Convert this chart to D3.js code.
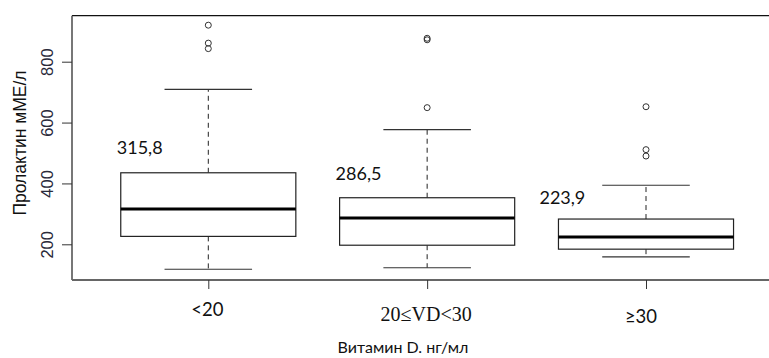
<!DOCTYPE html>
<html><head><meta charset="utf-8">
<script src="https://cdn.jsdelivr.net/npm/d3@7"></script>
<style>body{margin:0;background:#fff}svg{display:block}</style>
</head><body><svg id="c" width="769" height="358"></svg>
<script>
const categories = ["<20", "20\u2264VD<30", "\u226530"];
const q1 = [226, 197, 184];
const medians = [315.8, 286.5, 223.9];
const q3 = [435, 353, 283];
const whiskerLow = [118, 123, 159];
const whiskerHigh = [709, 577, 394];
const outliers = [[920, 861, 843], [877, 872, 649], [652, 511, 490]];
const medianLabels = ["315,8", "286,5", "223,9"];
const yTicks = [200, 400, 600, 800];

// layout-only offsets for the annotation texts (pixels)
const annotOffset = [{dx: -4, dy: -19}, {dx: -4, dy: -18}, {dx: -19, dy: -15}];

const svg = d3.select("#c");
const x = d3.scaleLinear().domain([1, 3]).range([208.3, 646]);
const y = d3.scaleLinear().domain([200, 800]).range([244.3, 61.7]);
const unit = x(2) - x(1);
const boxW = 0.8 * unit, capW = 0.4 * unit;
const plotTop = 15.7, plotBottom = 280, plotLeft = 72;

// frame
svg.append("line").attr("x1", plotLeft).attr("x2", 800).attr("y1", plotTop).attr("y2", plotTop).attr("stroke", "#111").attr("stroke-width", 1.2);
svg.append("line").attr("x1", plotLeft).attr("x2", plotLeft).attr("y1", plotTop).attr("y2", plotBottom).attr("stroke", "#555").attr("stroke-width", 1.6);
svg.append("line").attr("x1", plotLeft).attr("x2", 800).attr("y1", plotBottom).attr("y2", plotBottom).attr("stroke", "#666").attr("stroke-width", 1.8);

// y axis
const yAxis = d3.axisLeft(y).tickValues(yTicks).tickSize(10).tickSizeOuter(0).tickFormat(d3.format("d"));
const ya = svg.append("g").attr("transform", `translate(${plotLeft},0)`).call(yAxis);
ya.select(".domain").remove();
ya.selectAll(".tick line").attr("stroke", "#333");
ya.selectAll(".tick text").attr("fill", "#2a2a3a").attr("font-family", "Liberation Sans, Arial, sans-serif")
  .attr("font-size", 16.5).attr("text-anchor", "middle").attr("dy", null).attr("x", null)
  .attr("transform", `translate(-25,0) rotate(-90)`).attr("dominant-baseline", "central");

svg.append("text").attr("transform", "translate(20,143) rotate(-90)").attr("text-anchor", "middle")
  .attr("dominant-baseline", "central").attr("font-family", "Liberation Sans, Arial, sans-serif")
  .attr("font-size", 17.5).attr("fill", "#111").text("Пролактин мМЕ/л");

// x ticks
const xAxis = d3.axisBottom(x).tickValues([1, 2, 3]).tickSize(9).tickSizeOuter(0).tickFormat("");
const xa = svg.append("g").attr("transform", `translate(0,${plotBottom})`).call(xAxis);
xa.select(".domain").remove();
xa.selectAll(".tick line").attr("stroke", "#333");

// x labels
const labelStyle = [
  {font: "Lato, 'Open Sans', sans-serif", size: 18.5, dy: 316, dx: -1},
  {font: "Liberation Serif, 'Times New Roman', serif", size: 20, dy: 321, dx: -1},
  {font: "Lato, 'Open Sans', sans-serif", size: 18.5, dy: 323, dx: -5}
];
categories.forEach((c, i) => {
  svg.append("text").attr("x", x(i + 1) + labelStyle[i].dx).attr("y", labelStyle[i].dy)
    .attr("text-anchor", "middle").attr("font-family", labelStyle[i].font)
    .attr("font-size", labelStyle[i].size).attr("fill", "#111").text(c);
});
svg.append("text").attr("x", 403).attr("y", 353).attr("text-anchor", "middle")
  .attr("font-family", "Lato, 'Open Sans', sans-serif").attr("font-size", 16).attr("fill", "#111")
  .text("Витамин D. нг/мл");

// boxes
categories.forEach((c, i) => {
  const cx = x(i + 1);
  const g = svg.append("g");
  g.append("line").attr("x1", cx).attr("x2", cx).attr("y1", y(q3[i])).attr("y2", y(whiskerHigh[i]))
    .attr("stroke", "#222").attr("stroke-dasharray", "5,4");
  g.append("line").attr("x1", cx).attr("x2", cx).attr("y1", y(q1[i])).attr("y2", y(whiskerLow[i]))
    .attr("stroke", "#222").attr("stroke-dasharray", "5,4");
  [whiskerHigh[i], whiskerLow[i]].forEach(v => {
    g.append("line").attr("x1", cx - capW / 2).attr("x2", cx + capW / 2).attr("y1", y(v)).attr("y2", y(v))
      .attr("stroke", "#333").attr("stroke-width", 1.2);
  });
  g.append("rect").attr("x", cx - boxW / 2).attr("width", boxW).attr("y", y(q3[i]))
    .attr("height", y(q1[i]) - y(q3[i])).attr("fill", "#fff").attr("stroke", "#222").attr("stroke-width", 1.2);
  g.append("line").attr("x1", cx - boxW / 2).attr("x2", cx + boxW / 2).attr("y1", y(medians[i])).attr("y2", y(medians[i]))
    .attr("stroke", "#000").attr("stroke-width", 3);
  outliers[i].forEach(v => {
    g.append("circle").attr("cx", cx).attr("cy", y(v)).attr("r", 3).attr("fill", "none")
      .attr("stroke", "#333").attr("stroke-width", 1);
  });
  svg.append("text").attr("x", cx - boxW / 2 + annotOffset[i].dx).attr("y", y(q3[i]) + annotOffset[i].dy)
    .attr("font-family", "Lato, 'Open Sans', sans-serif").attr("font-size", 18).attr("fill", "#111")
    .text(medianLabels[i]);
});
</script></body></html>
